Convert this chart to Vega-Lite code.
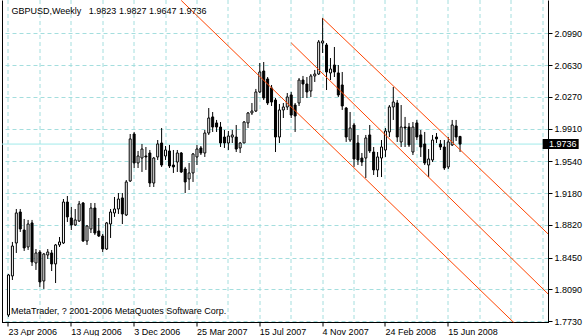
{
  "$schema": "https://vega.github.io/schema/vega-lite/v6.json",
  "width": 546,
  "height": 322.5,
  "autosize": {"type": "none"},
  "padding": {"left": 2, "top": 0, "right": 36, "bottom": 13.5},
  "background": "white",
  "config": {
    "view": {"stroke": null},
    "axis": {"labelFont": "Liberation Sans", "labelFontSize": 9, "labelColor": "#000000", "title": null},
    "text": {"font": "Liberation Sans", "fontSize": 9}
  },
  "datasets": {
    "candles": [
      {"d":"2006-04-23","o":1.7801,"h":1.8265,"l":1.7779,"c":1.8254},
      {"d":"2006-04-30","o":1.8243,"h":1.8628,"l":1.8197,"c":1.8582},
      {"d":"2006-05-07","o":1.8616,"h":1.9001,"l":1.8503,"c":1.8956},
      {"d":"2006-05-14","o":1.8967,"h":1.9001,"l":1.8741,"c":1.8775},
      {"d":"2006-05-21","o":1.8763,"h":1.8888,"l":1.8526,"c":1.8560},
      {"d":"2006-05-28","o":1.8571,"h":1.8877,"l":1.8537,"c":1.8831},
      {"d":"2006-06-04","o":1.8843,"h":1.8877,"l":1.8356,"c":1.8401},
      {"d":"2006-06-11","o":1.8390,"h":1.8548,"l":1.8311,"c":1.8503},
      {"d":"2006-06-18","o":1.8514,"h":1.8537,"l":1.8118,"c":1.8175},
      {"d":"2006-06-25","o":1.8186,"h":1.8503,"l":1.8096,"c":1.8492},
      {"d":"2006-07-02","o":1.8480,"h":1.8548,"l":1.8435,"c":1.8514},
      {"d":"2006-07-09","o":1.8503,"h":1.8537,"l":1.8299,"c":1.8379},
      {"d":"2006-07-16","o":1.8379,"h":1.8605,"l":1.8163,"c":1.8594},
      {"d":"2006-07-23","o":1.8594,"h":1.8684,"l":1.8571,"c":1.8628},
      {"d":"2006-07-30","o":1.8616,"h":1.9114,"l":1.8605,"c":1.9080},
      {"d":"2006-08-06","o":1.9080,"h":1.9148,"l":1.8854,"c":1.8911},
      {"d":"2006-08-13","o":1.8899,"h":1.9024,"l":1.8763,"c":1.8820},
      {"d":"2006-08-20","o":1.8820,"h":1.9001,"l":1.8809,"c":1.8877},
      {"d":"2006-08-27","o":1.8865,"h":1.9092,"l":1.8854,"c":1.9058},
      {"d":"2006-09-03","o":1.9069,"h":1.9080,"l":1.8628,"c":1.8639},
      {"d":"2006-09-10","o":1.8639,"h":1.8820,"l":1.8594,"c":1.8809},
      {"d":"2006-09-17","o":1.8775,"h":1.9069,"l":1.8729,"c":1.9012},
      {"d":"2006-09-24","o":1.9012,"h":1.9069,"l":1.8707,"c":1.8729},
      {"d":"2006-10-01","o":1.8752,"h":1.8899,"l":1.8684,"c":1.8695},
      {"d":"2006-10-08","o":1.8695,"h":1.8718,"l":1.8514,"c":1.8548},
      {"d":"2006-10-15","o":1.8548,"h":1.8854,"l":1.8537,"c":1.8843},
      {"d":"2006-10-22","o":1.8831,"h":1.9001,"l":1.8673,"c":1.8967},
      {"d":"2006-10-29","o":1.8956,"h":1.9137,"l":1.8911,"c":1.9001},
      {"d":"2006-11-05","o":1.9001,"h":1.9182,"l":1.8945,"c":1.9114},
      {"d":"2006-11-12","o":1.9126,"h":1.9182,"l":1.8831,"c":1.8945},
      {"d":"2006-11-19","o":1.8933,"h":1.9329,"l":1.8922,"c":1.9307},
      {"d":"2006-11-26","o":1.9318,"h":1.9850,"l":1.9307,"c":1.9794},
      {"d":"2006-12-03","o":1.9850,"h":1.9873,"l":1.9465,"c":1.9522},
      {"d":"2006-12-10","o":1.9522,"h":1.9658,"l":1.9465,"c":1.9601},
      {"d":"2006-12-17","o":1.9578,"h":1.9737,"l":1.9420,"c":1.9680},
      {"d":"2006-12-24","o":1.9601,"h":1.9703,"l":1.9443,"c":1.9590},
      {"d":"2006-12-31","o":1.9635,"h":1.9669,"l":1.9250,"c":1.9295},
      {"d":"2007-01-07","o":1.9295,"h":1.9590,"l":1.9250,"c":1.9578},
      {"d":"2007-01-14","o":1.9590,"h":1.9782,"l":1.9556,"c":1.9737},
      {"d":"2007-01-21","o":1.9748,"h":1.9918,"l":1.9477,"c":1.9499},
      {"d":"2007-01-28","o":1.9601,"h":1.9714,"l":1.9556,"c":1.9669},
      {"d":"2007-02-04","o":1.9658,"h":1.9726,"l":1.9465,"c":1.9488},
      {"d":"2007-02-11","o":1.9499,"h":1.9669,"l":1.9409,"c":1.9477},
      {"d":"2007-02-18","o":1.9533,"h":1.9669,"l":1.9420,"c":1.9635},
      {"d":"2007-02-25","o":1.9635,"h":1.9646,"l":1.9409,"c":1.9420},
      {"d":"2007-03-04","o":1.9454,"h":1.9477,"l":1.9182,"c":1.9307},
      {"d":"2007-03-11","o":1.9341,"h":1.9522,"l":1.9216,"c":1.9409},
      {"d":"2007-03-18","o":1.9409,"h":1.9635,"l":1.9307,"c":1.9624},
      {"d":"2007-03-25","o":1.9590,"h":1.9726,"l":1.9499,"c":1.9680},
      {"d":"2007-04-01","o":1.9692,"h":1.9714,"l":1.9612,"c":1.9635},
      {"d":"2007-04-08","o":1.9635,"h":1.9895,"l":1.9590,"c":1.9861},
      {"d":"2007-04-15","o":1.9861,"h":2.0144,"l":1.9839,"c":2.0031},
      {"d":"2007-04-22","o":2.0043,"h":2.0099,"l":1.9873,"c":1.9929},
      {"d":"2007-04-29","o":1.9975,"h":2.0009,"l":1.9873,"c":1.9929},
      {"d":"2007-05-06","o":1.9929,"h":1.9986,"l":1.9703,"c":1.9748},
      {"d":"2007-05-13","o":1.9816,"h":1.9895,"l":1.9692,"c":1.9748},
      {"d":"2007-05-20","o":1.9748,"h":1.9884,"l":1.9669,"c":1.9827},
      {"d":"2007-05-27","o":1.9816,"h":1.9895,"l":1.9748,"c":1.9839},
      {"d":"2007-06-03","o":1.9816,"h":1.9952,"l":1.9646,"c":1.9680},
      {"d":"2007-06-10","o":1.9692,"h":1.9760,"l":1.9635,"c":1.9748},
      {"d":"2007-06-17","o":1.9748,"h":1.9997,"l":1.9748,"c":1.9986},
      {"d":"2007-06-24","o":1.9975,"h":2.0099,"l":1.9918,"c":2.0088},
      {"d":"2007-07-01","o":2.0088,"h":2.0201,"l":2.0065,"c":2.0110},
      {"d":"2007-07-08","o":2.0110,"h":2.0360,"l":2.0099,"c":2.0326},
      {"d":"2007-07-15","o":2.0326,"h":2.0654,"l":2.0314,"c":2.0552},
      {"d":"2007-07-22","o":2.0563,"h":2.0665,"l":2.0235,"c":2.0258},
      {"d":"2007-07-29","o":2.0473,"h":2.0495,"l":2.0178,"c":2.0201},
      {"d":"2007-08-05","o":2.0371,"h":2.0405,"l":2.0167,"c":2.0212},
      {"d":"2007-08-12","o":2.0235,"h":2.0258,"l":1.9646,"c":1.9816},
      {"d":"2007-08-19","o":1.9816,"h":2.0190,"l":1.9748,"c":2.0122},
      {"d":"2007-08-26","o":2.0122,"h":2.0201,"l":2.0031,"c":2.0156},
      {"d":"2007-09-02","o":2.0156,"h":2.0314,"l":2.0122,"c":2.0269},
      {"d":"2007-09-09","o":2.0292,"h":2.0326,"l":2.0031,"c":2.0065},
      {"d":"2007-09-16","o":2.0178,"h":2.0201,"l":1.9873,"c":2.0054},
      {"d":"2007-09-23","o":2.0201,"h":2.0484,"l":2.0167,"c":2.0461},
      {"d":"2007-09-30","o":2.0461,"h":2.0507,"l":2.0258,"c":2.0416},
      {"d":"2007-10-07","o":2.0416,"h":2.0495,"l":2.0258,"c":2.0326},
      {"d":"2007-10-14","o":2.0337,"h":2.0529,"l":2.0269,"c":2.0507},
      {"d":"2007-10-21","o":2.0507,"h":2.0575,"l":2.0439,"c":2.0529},
      {"d":"2007-10-28","o":2.0529,"h":2.0914,"l":2.0518,"c":2.0892},
      {"d":"2007-11-04","o":2.0880,"h":2.1163,"l":2.0767,"c":2.0903},
      {"d":"2007-11-11","o":2.0858,"h":2.0880,"l":2.0348,"c":2.0552},
      {"d":"2007-11-18","o":2.0541,"h":2.0710,"l":2.0461,"c":2.0586},
      {"d":"2007-11-25","o":2.0631,"h":2.0835,"l":2.0495,"c":2.0552},
      {"d":"2007-12-02","o":2.0541,"h":2.0631,"l":2.0269,"c":2.0292},
      {"d":"2007-12-09","o":2.0405,"h":2.0552,"l":2.0122,"c":2.0167},
      {"d":"2007-12-16","o":2.0144,"h":2.0156,"l":1.9760,"c":1.9816},
      {"d":"2007-12-23","o":1.9782,"h":2.0099,"l":1.9760,"c":1.9918},
      {"d":"2007-12-30","o":1.9952,"h":1.9975,"l":1.9477,"c":1.9567},
      {"d":"2008-01-06","o":1.9748,"h":1.9839,"l":1.9499,"c":1.9556},
      {"d":"2008-01-13","o":1.9578,"h":1.9635,"l":1.9488,"c":1.9533},
      {"d":"2008-01-20","o":1.9578,"h":1.9839,"l":1.9352,"c":1.9805},
      {"d":"2008-01-27","o":1.9839,"h":1.9952,"l":1.9635,"c":1.9658},
      {"d":"2008-02-03","o":1.9646,"h":1.9703,"l":1.9386,"c":1.9443},
      {"d":"2008-02-10","o":1.9443,"h":1.9646,"l":1.9363,"c":1.9590},
      {"d":"2008-02-17","o":1.9578,"h":1.9782,"l":1.9363,"c":1.9703},
      {"d":"2008-02-24","o":1.9669,"h":1.9918,"l":1.9590,"c":1.9884},
      {"d":"2008-03-02","o":1.9873,"h":2.0178,"l":1.9816,"c":2.0156},
      {"d":"2008-03-09","o":2.0156,"h":2.0382,"l":2.0009,"c":2.0212},
      {"d":"2008-03-16","o":2.0201,"h":2.0235,"l":1.9760,"c":1.9816},
      {"d":"2008-03-23","o":1.9760,"h":2.0178,"l":1.9703,"c":1.9929},
      {"d":"2008-03-30","o":1.9929,"h":2.0043,"l":1.9703,"c":1.9918},
      {"d":"2008-04-06","o":1.9929,"h":1.9975,"l":1.9703,"c":1.9726},
      {"d":"2008-04-13","o":1.9646,"h":1.9986,"l":1.9612,"c":1.9929},
      {"d":"2008-04-20","o":1.9975,"h":2.0009,"l":1.9782,"c":1.9816},
      {"d":"2008-04-27","o":1.9839,"h":1.9895,"l":1.9590,"c":1.9703},
      {"d":"2008-05-04","o":1.9737,"h":1.9873,"l":1.9499,"c":1.9522},
      {"d":"2008-05-11","o":1.9499,"h":1.9680,"l":1.9363,"c":1.9567},
      {"d":"2008-05-18","o":1.9556,"h":1.9839,"l":1.9533,"c":1.9782},
      {"d":"2008-05-25","o":1.9816,"h":1.9861,"l":1.9748,"c":1.9794},
      {"d":"2008-06-01","o":1.9737,"h":1.9782,"l":1.9669,"c":1.9703},
      {"d":"2008-06-08","o":1.9703,"h":1.9782,"l":1.9443,"c":1.9465},
      {"d":"2008-06-15","o":1.9477,"h":1.9816,"l":1.9454,"c":1.9760},
      {"d":"2008-06-22","o":1.9726,"h":2.0009,"l":1.9714,"c":1.9952},
      {"d":"2008-06-29","o":1.9941,"h":2.0009,"l":1.9771,"c":1.9816},
      {"d":"2008-07-06","o":1.9823,"h":1.9827,"l":1.9647,"c":1.9736}
    ],
    "channel": [
      {"line":"A","d":"2007-02-25","p":2.1362},
      {"line":"A","d":"2008-12-28","p":1.7228},
      {"line":"B","d":"2007-09-09","p":2.0882},
      {"line":"B","d":"2008-12-28","p":1.7927},
      {"line":"C","d":"2007-11-04","p":2.1160},
      {"line":"C","d":"2008-12-28","p":1.8609}
    ],
    "last": [{"price": 1.9736}]
  },
  "resolve": {"axis": {"x": "independent", "y": "independent"}},
  "layer": [
    {
      "data": {"name": "last"},
      "mark": {"type": "rule", "color": "#a2eaea", "strokeWidth": 1},
      "encoding": {
        "y": {"field": "price", "type": "quantitative", "axis": null}
      }
    },
    {
      "data": {"name": "candles"},
      "mark": {"type": "rule", "color": "#000000", "strokeWidth": 1},
      "encoding": {
        "x": {
          "field": "d", "type": "temporal",
          "scale": {"type": "utc", "nice": false,
            "domain": [{"year": 2006, "month": 4, "date": 20, "hours": 9, "utc": true}, {"year": 2008, "month": 11, "date": 30, "hours": 21, "utc": true}]},
          "axis": {
            "orient": "bottom",
            "translate": 0,
            "values": [
              {"year": 2006, "month": 4, "date": 23, "utc": true},
              {"year": 2006, "month": 6, "date": 18, "utc": true},
              {"year": 2006, "month": 8, "date": 13, "utc": true},
              {"year": 2006, "month": 10, "date": 8, "utc": true},
              {"year": 2006, "month": 12, "date": 3, "utc": true},
              {"year": 2007, "month": 1, "date": 28, "utc": true},
              {"year": 2007, "month": 3, "date": 25, "utc": true},
              {"year": 2007, "month": 5, "date": 20, "utc": true},
              {"year": 2007, "month": 7, "date": 15, "utc": true},
              {"year": 2007, "month": 9, "date": 9, "utc": true},
              {"year": 2007, "month": 11, "date": 4, "utc": true},
              {"year": 2007, "month": 12, "date": 30, "utc": true},
              {"year": 2008, "month": 2, "date": 24, "utc": true},
              {"year": 2008, "month": 4, "date": 20, "utc": true},
              {"year": 2008, "month": 6, "date": 15, "utc": true},
              {"year": 2008, "month": 8, "date": 10, "utc": true},
              {"year": 2008, "month": 10, "date": 5, "utc": true},
              {"year": 2008, "month": 11, "date": 30, "utc": true}
            ],
            "format": "%-d %b %Y",
            "labelExpr": "(round((toNumber(datum.value) - utc(2006,3,23)) / 604800000) % 16 === 0 && toNumber(datum.value) <= utc(2008,5,15)) ? datum.label : ''",
            "labelAlign": "left",
            "labelBaseline": "alphabetic",
            "labelPadding": 8.5,
            "labelFlush": false,
            "labelOverlap": false,
            "labelBound": false,
            "grid": true,
            "gridColor": "#a4dede",
            "gridDash": [4, 3],
            "gridWidth": 1,
            "domain": true,
            "domainColor": "#000000",
            "domainWidth": 1,
            "ticks": true,
            "tickColor": "#000000",
            "tickSize": 4,
            "tickOpacity": {"condition": {"test": "round((toNumber(datum.value) - utc(2006,3,23)) / 604800000) % 16 === 0 && toNumber(datum.value) <= utc(2008,5,15)", "value": 1}, "value": 0}
          }
        },
        "y": {
          "field": "l", "type": "quantitative",
          "scale": {"domain": [1.7716, 2.1367], "nice": false, "zero": false},
          "axis": {
            "orient": "right",
            "values": [2.099, 2.063, 2.027, 1.991, 1.954, 1.918, 1.882, 1.845, 1.809, 1.773],
            "format": ".4f",
            "grid": true,
            "gridColor": "#a4dede",
            "gridDash": [4, 3],
            "gridWidth": 1,
            "domain": true,
            "domainColor": "#000000",
            "domainWidth": 1,
            "ticks": true,
            "tickColor": "#000000",
            "tickSize": 4,
            "labelPadding": 2,
            "labelOverlap": false,
            "labelFlush": false,
            "labelBaseline": "middle"
          }
        },
        "y2": {"field": "h"}
      }
    },
    {
      "data": {"name": "candles"},
      "mark": {"type": "bar", "size": 2, "stroke": "#000000", "strokeWidth": 1},
      "encoding": {
        "x": {"field": "d", "type": "temporal", "axis": null},
        "y": {
          "field": "o", "type": "quantitative",
          "axis": {"orient": "left", "labels": false, "ticks": false, "grid": false, "domain": true, "domainColor": "#000000", "domainWidth": 1}
        },
        "y2": {"field": "c"},
        "fill": {"condition": {"test": "datum.c > datum.o", "value": "#ffffff"}, "value": "#000000"}
      }
    },
    {
      "data": {"name": "channel"},
      "mark": {"type": "line", "color": "#ff4500", "strokeWidth": 1, "clip": true},
      "encoding": {
        "x": {"field": "d", "type": "temporal", "axis": null},
        "y": {"field": "p", "type": "quantitative", "axis": null},
        "detail": {"field": "line"}
      }
    },
    {
      "data": {"name": "last"},
      "mark": {"type": "tick", "orient": "horizontal", "size": 36, "thickness": 10, "color": "#000000", "opacity": 1},
      "encoding": {
        "x": {"datum": {"year": 2009, "month": 1, "date": 1, "hours": 9, "utc": true}, "type": "temporal", "axis": null},
        "y": {"field": "price", "type": "quantitative", "axis": null}
      }
    },
    {
      "data": {"name": "last"},
      "mark": {"type": "text", "align": "left", "baseline": "middle", "color": "#ffffff", "fontSize": 9},
      "encoding": {
        "x": {"datum": {"year": 2008, "month": 12, "date": 11, "hours": 9, "utc": true}, "type": "temporal", "axis": null},
        "y": {"field": "price", "type": "quantitative", "axis": null},
        "text": {"field": "price", "format": ".4f"}
      }
    },
    {
      "data": {"values": [{"label": "GBPUSD,Weekly\u00a0\u00a0\u00a01.9823 1.9827 1.9647 1.9736"}]},
      "mark": {"type": "text", "align": "left", "baseline": "alphabetic", "dx": 4.5, "dy": 14, "color": "#000000", "fontSize": 9},
      "encoding": {
        "x": {"datum": {"year": 2006, "month": 4, "date": 20, "hours": 9, "utc": true}, "type": "temporal", "axis": null},
        "y": {"datum": 2.1367, "type": "quantitative", "axis": null},
        "text": {"field": "label"}
      }
    },
    {
      "data": {"values": [{"label": "MetaTrader, ? 2001-2006 MetaQuotes Software Corp."}]},
      "mark": {"type": "text", "align": "left", "baseline": "alphabetic", "dx": 4, "dy": -8.5, "color": "#000000", "fontSize": 9},
      "encoding": {
        "x": {"datum": {"year": 2006, "month": 4, "date": 20, "hours": 9, "utc": true}, "type": "temporal", "axis": null},
        "y": {"datum": 1.7716, "type": "quantitative", "axis": null},
        "text": {"field": "label"}
      }
    }
  ]
}
